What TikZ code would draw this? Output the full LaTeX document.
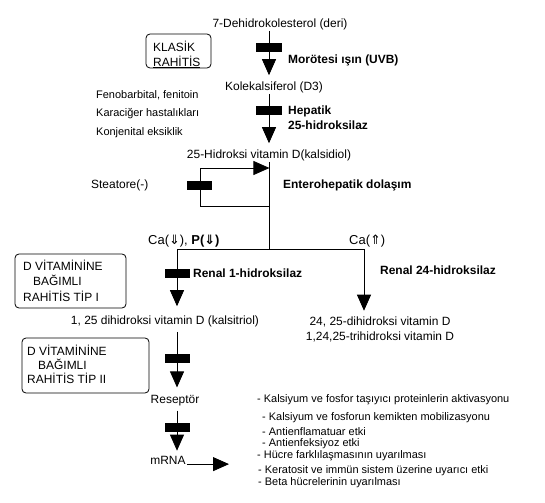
\documentclass[tikz,border=0pt]{standalone}
\usepackage{fontspec}
\setmainfont{Liberation Sans}
\newfontfamily\symf{DejaVu Sans}
\usetikzlibrary{arrows.meta,calc}
\begin{document}
\begin{tikzpicture}[x=1bp,y=-1bp,
 lbl/.style={inner sep=1bp,font=\fontsize{12}{14}\selectfont},
 blbl/.style={inner sep=0pt,anchor=west,align=left,font=\fontsize{12}{15}\selectfont\bfseries},
 lst/.style={inner sep=0pt,anchor=west,font=\fontsize{11}{13}\selectfont},
 arr/.style={line width=0.8bp,-{Triangle[length=16bp,width=14bp]}},
 ln/.style={line width=0.8bp},
 blk/.style={fill=black,inner sep=0pt,minimum width=25bp,minimum height=9bp},
 rbox/.style={draw,line width=0.8bp,rounded corners=4bp,inner sep=0pt},
 btxt/.style={inner sep=0pt,anchor=west,align=left,font=\fontsize{12}{15}\selectfont}
]
\useasboundingbox (0,0) rectangle (545,503);

% column coordinates
\coordinate (colA) at (269,0);
\coordinate (colB) at (177,0);

% main chain nodes
\node[lbl] (dehydro) at (280,24) {7-Dehidrokolesterol (deri)};
\node[lbl] (kolek) at (274,87) {Kolekalsiferol (D3)};
\node[lbl] (kals) at (269,155) {25-Hidroksi vitamin D(kalsidiol)};

% KLASIK box
\node[rbox,minimum width=65bp,minimum height=34bp] (kbox) at (178.5,51) {};
\node[btxt] (ktxt) at (153,54.5) {KLASİK\\\underline{RAHİTİS}};

% enzyme labels
\node[blbl] (uvb) at (288,60) {Morötesi ışın (UVB)};
\node[blbl] (hep) at (288,117.5) {Hepatik\\25-hidroksilaz};
\node[blbl] (entero) at (283,185) {Enterohepatik dolaşım};
\node[blbl] (ren1) at (193,273) {Renal 1-hidroksilaz};
\node[blbl] (ren24) at (380,270) {Renal 24-hidroksilaz};

% left causes
\node[lst] (feno) at (96,95) {Fenobarbital, fenitoin};
\node[lst] (kara) at (96,114) {Karaciğer hastalıkları};
\node[lst] (konj) at (96,133) {Konjenital eksiklik};
\node[lst,font=\fontsize{12}{14}\selectfont] (stea) at (91,185) {Steatore(-)};

% Ca labels
\node[inner sep=0pt,anchor=west,font=\fontsize{13}{15}\selectfont] (calow) at (148,241) {Ca({\symf ⇓}), \textbf{P({\symf ⇓})}};
\node[inner sep=0pt,anchor=west,font=\fontsize{13}{15}\selectfont] (cahigh) at (349,241) {Ca({\symf ⇑})};

% arrows main chain
\draw[arr,shorten >=5bp] (dehydro.south -| colA) -- (kolek.north -| colA);
\node[blk,minimum width=26bp] (b1) at (269,47.5) {};
\draw[arr,shorten >=5bp] (kolek.south -| colA) -- (kals.north -| colA);
\node[blk,minimum width=26bp] (b2) at (269,110.5) {};

% branch
\coordinate (brM) at (269,249);
\coordinate (brL) at (177,249);
\coordinate (brR) at (364,249);
\draw[ln] (kals.south -| brM) -- (brM);
\draw[ln] (brL) -- (brR);

% enterohepatic loop
\coordinate (lpB) at (269,206);
\coordinate (lpL) at (200,206);
\coordinate (lpT) at (200,168);
\coordinate (lpE) at (269.4,168);
\draw[arr] (lpB) -- (lpL) -- (lpT) -- (lpE);
\node[blk] (b3) at (199,186) {};

% products
\node[lbl] (kalsitriol) at (165,321) {1, 25 dihidroksi vitamin D (kalsitriol)};
\node[lbl,align=center,font=\fontsize{12}{15}\selectfont] (dih) at (380,329.5) {24, 25-dihidroksi vitamin D\\1,24,25-trihidroksi vitamin D};
\node[lbl] (resep) at (175,401) {Reseptör};
\node[lbl] (mrna) at (168,460) {mRNA};
\coordinate (mrnaEnd) at (229,0);

\draw[arr,shorten >=8bp] (brL) -- (kalsitriol.north -| brL);
\node[blk] (b4) at (177,273) {};
\draw[arr,shorten >=5bp] (brR) -- (dih.north -| brR);

\draw[arr,shorten <=4bp,shorten >=7bp] (kalsitriol.south -| colB) -- (resep.north -| colB);
\node[blk] (b5) at (177,358) {};
\draw[arr,shorten <=3bp,shorten >=4bp] (resep.south -| colB) -- (mrna.north -| colB);
\node[blk] (b6) at (177,427) {};
\draw[arr] (mrna.base east) -- (mrna.base east -| mrnaEnd);

% boxes of rickets types
\node[rbox,minimum width=111bp,minimum height=54bp] (box1) at (70.5,281) {};
\node[btxt,font=\fontsize{12}{15.5}\selectfont] (box1t) at (23,280.5) {D VİTAMİNİNE\\\hspace*{10bp}BAĞIMLI\\RAHİTİS TİP I};
\node[rbox,minimum width=127bp,minimum height=55bp] (box2) at (85.5,365.5) {};
\node[btxt,font=\fontsize{12}{14}\selectfont] (box2t) at (27,364) {D VİTAMİNİNE\\\hspace*{11bp}BAĞIMLI\\RAHİTİS TİP II};

% effects list
\node[lst] (e1) at (257,400) {- Kalsiyum ve fosfor taşıyıcı proteinlerin aktivasyonu};
\node[lst] (e2) at (262,418) {- Kalsiyum ve fosforun kemikten mobilizasyonu};
\node[lst] (e3) at (262,432) {- Antienflamatuar etki};
\node[lst] (e4) at (262,444) {- Antienfeksiyoz etki};
\node[lst] (e5) at (257,456) {- Hücre farklılaşmasının uyarılması};
\node[lst] (e6) at (258,471) {- Keratosit ve immün sistem üzerine uyarıcı etki};
\node[lst] (e7) at (258,483) {- Beta hücrelerinin uyarılması};
\end{tikzpicture}
\end{document}
